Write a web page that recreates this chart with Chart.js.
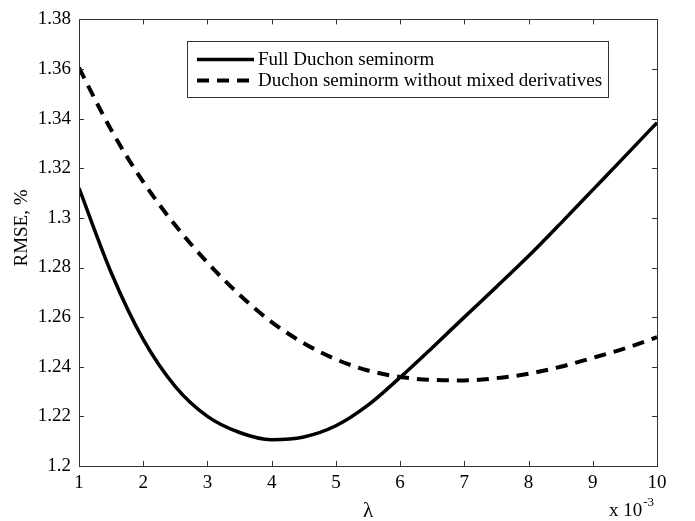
<!DOCTYPE html>
<html>
<head>
<meta charset="utf-8">
<script src="https://cdn.jsdelivr.net/npm/chart.js@4.4.1/dist/chart.umd.min.js"></script>
<style>
  html, body { margin: 0; padding: 0; background: #fff; }
  #divCanvas { width: 695px; height: 521px; }
</style>
</head>
<body>
<div id="divCanvas"><canvas id="rmseChart" width="695" height="521"></canvas></div>
<script>
// lambda values (x 10^-3)
var lambdas = [1, 1.5, 2, 2.5, 3, 3.5, 4, 4.5, 5, 5.5, 6, 6.5, 7, 7.5, 8, 8.5, 9, 9.5, 10];

// RMSE, % for the two regularizers
var fullDuchon = [1.312, 1.278, 1.251, 1.232, 1.2200, 1.2135, 1.2106, 1.2117, 1.2162, 1.2245,
                  1.2357, 1.2477, 1.2600, 1.2722, 1.2846, 1.2978, 1.3113, 1.3248, 1.3384];
var noMixed = [1.3605, 1.3355, 1.3145, 1.2970, 1.2820, 1.2690, 1.2580, 1.2495, 1.2430, 1.2385,
               1.2359, 1.2347, 1.2345, 1.2354, 1.2372, 1.2400, 1.2436, 1.2474, 1.2519];

var seriesNames = ["Full Duchon seminorm", "Duchon seminorm without mixed derivatives"];

var xTickLabels = ["1", "2", "3", "4", "5", "6", "7", "8", "9", "10"];
var yTickLabels = ["1.2", "1.22", "1.24", "1.26", "1.28", "1.3", "1.32", "1.34", "1.36", "1.38"];

var serif = "'Liberation Serif', 'Times New Roman', serif";

function toPoints(xs, ys) {
    var pts = [];
    for (var i = 0; i < xs.length; i++) {
        pts.push({ x: xs[i], y: ys[i] });
    }
    return pts;
}

// box around the axes, inward ticks, legend and axis labels
var matlabFrame = {
    id: 'matlabFrame',
    afterDraw: function (chart) {
        var ctx = chart.ctx;
        var a = chart.chartArea;
        var xs = chart.scales.x, ys = chart.scales.y;
        var tickLen = 5;
        ctx.save();
        ctx.strokeStyle = '#333';
        ctx.lineWidth = 1;
        ctx.strokeRect(Math.round(a.left) + 0.5, Math.round(a.top) + 0.5,
                       Math.round(a.right - a.left), Math.round(a.bottom - a.top));
        ctx.beginPath();
        xs.ticks.forEach(function (t) {
            var px = Math.round(xs.getPixelForValue(t.value)) + 0.5;
            ctx.moveTo(px, a.bottom); ctx.lineTo(px, a.bottom - tickLen);
            ctx.moveTo(px, a.top); ctx.lineTo(px, a.top + tickLen);
        });
        ys.ticks.forEach(function (t) {
            var py = Math.round(ys.getPixelForValue(t.value)) + 0.5;
            ctx.moveTo(a.left, py); ctx.lineTo(a.left + tickLen, py);
            ctx.moveTo(a.right, py); ctx.lineTo(a.right - tickLen, py);
        });
        ctx.stroke();

        // legend
        var lx = 187, ly = 41, lw = 421, lh = 56;
        ctx.fillStyle = '#fff';
        ctx.fillRect(lx, ly, lw, lh);
        ctx.strokeStyle = '#333';
        ctx.strokeRect(lx + 0.5, ly + 0.5, lw, lh);
        ctx.font = '19px ' + serif;
        ctx.textBaseline = 'middle';
        ctx.fillStyle = '#000';
        chart.data.datasets.forEach(function (ds, i) {
            var rowY = 59.5 + i * 21;
            ctx.beginPath();
            ctx.strokeStyle = '#000';
            ctx.lineWidth = ds.borderWidth;
            ctx.setLineDash(ds.borderDash || []);
            ctx.moveTo(197, rowY);
            ctx.lineTo(254, rowY);
            ctx.stroke();
            ctx.setLineDash([]);
            ctx.fillText(ds.label, 258, rowY + 1);
        });

        // axis titles
        ctx.textAlign = 'center';
        ctx.font = '21px ' + serif;
        ctx.fillText('λ', (a.left + a.right) / 2, 511);
        ctx.save();
        ctx.translate(22, 228);
        ctx.rotate(-Math.PI / 2);
        ctx.font = '19px ' + serif;
        ctx.fillText('RMSE, %', 0, 0);
        ctx.restore();

        // exponent note
        ctx.textAlign = 'left';
        ctx.textBaseline = 'alphabetic';
        ctx.font = '19px ' + serif;
        ctx.fillText('x 10', 609, 516);
        var w = ctx.measureText('x 10').width;
        ctx.font = '13px ' + serif;
        ctx.fillText('-3', 609 + w + 1, 506);
        ctx.restore();
    }
};

var ctx = document.getElementById('rmseChart');
var rmseChart = new Chart(ctx, {
    type: 'line',
    data: {
        datasets: [
            {
                label: seriesNames[0],
                data: toPoints(lambdas, fullDuchon),
                borderColor: '#000',
                borderWidth: 3.5,
                pointRadius: 0,
                cubicInterpolationMode: 'monotone',
                fill: false
            },
            {
                label: seriesNames[1],
                data: toPoints(lambdas, noMixed),
                borderColor: '#000',
                borderWidth: 4,
                borderDash: [12, 8],
                pointRadius: 0,
                cubicInterpolationMode: 'monotone',
                fill: false
            }
        ]
    },
    options: {
        responsive: false,
        animation: false,
        layout: { padding: { top: 9, right: 38, left: 0, bottom: 0 } },
        plugins: {
            legend: { display: false },
            tooltip: { enabled: false }
        },
        scales: {
            x: {
                type: 'linear',
                min: 1,
                max: 10,
                grid: { display: false, drawTicks: false },
                border: { display: false },
                ticks: {
                    stepSize: 1,
                    padding: 6,
                    color: '#000',
                    font: { family: serif, size: 19 },
                    maxRotation: 0,
                    callback: function (v, i) { return xTickLabels[i]; }
                },
                afterFit: function (scale) { scale.height = 55; }
            },
            y: {
                min: 1.2,
                max: 1.38,
                grid: { display: false, drawTicks: false },
                border: { display: false },
                ticks: {
                    stepSize: 0.02,
                    padding: 8,
                    color: '#000',
                    font: { family: serif, size: 19 },
                    callback: function (v, i) { return yTickLabels[i]; }
                },
                afterFit: function (scale) { scale.width = 79; }
            }
        }
    },
    plugins: [matlabFrame]
});
</script>
</body>
</html>
